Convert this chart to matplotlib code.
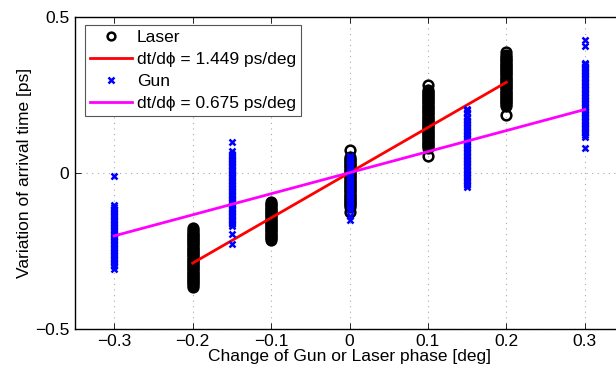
import numpy as np
import matplotlib
matplotlib.use("Agg")
import matplotlib.pyplot as plt

plt.rcParams['font.family'] = ['Liberation Sans', 'DejaVu Sans']
plt.rcParams['axes.unicode_minus'] = True

# ---- data ----
laser_x = [-0.2, -0.1, 0.0, 0.1, 0.2]
laser_y = [
    [-0.178, -0.185, -0.19, -0.195, -0.20, -0.205, -0.21, -0.215, -0.22, -0.225, -0.23, -0.235,
     -0.24, -0.245, -0.25, -0.255, -0.26, -0.265, -0.27, -0.275, -0.28, -0.285, -0.29, -0.295,
     -0.30, -0.305, -0.31, -0.315, -0.32, -0.325, -0.33, -0.335, -0.34, -0.345, -0.35, -0.355,
     -0.36, -0.366],
    [-0.093, -0.10, -0.105, -0.11, -0.115, -0.12, -0.125, -0.13, -0.135, -0.14, -0.145, -0.15,
     -0.155, -0.16, -0.165, -0.17, -0.175, -0.18, -0.185, -0.19, -0.195, -0.20, -0.205, -0.21,
     -0.216],
    [0.072, 0.05, 0.045, 0.04, 0.035, 0.03, 0.025, 0.02, 0.015, 0.01, 0.005, 0.0, -0.005, -0.01,
     -0.015, -0.02, -0.025, -0.03, -0.035, -0.04, -0.045, -0.05, -0.055, -0.06, -0.065, -0.07,
     -0.075, -0.08, -0.085, -0.09, -0.095, -0.10, -0.105, -0.11, -0.126],
    [0.28, 0.265, 0.26, 0.255, 0.25, 0.245, 0.24, 0.235, 0.23, 0.225, 0.22, 0.215, 0.21, 0.205,
     0.20, 0.195, 0.19, 0.185, 0.18, 0.175, 0.17, 0.165, 0.16, 0.155, 0.15, 0.145, 0.14, 0.135,
     0.13, 0.125, 0.12, 0.115, 0.11, 0.105, 0.10, 0.095, 0.09, 0.085, 0.08, 0.055],
    [0.387, 0.378, 0.372, 0.366, 0.36, 0.355, 0.35, 0.345, 0.34, 0.335, 0.33, 0.325, 0.32, 0.315,
     0.31, 0.305, 0.30, 0.295, 0.29, 0.285, 0.28, 0.275, 0.27, 0.265, 0.26, 0.255, 0.25, 0.245,
     0.24, 0.235, 0.23, 0.225, 0.22, 0.214, 0.185],
]
gun_x = [-0.3, -0.15, 0.0, 0.15, 0.3]
gun_y = [
    [-0.012, -0.105, -0.11, -0.115, -0.12, -0.125, -0.13, -0.135, -0.14, -0.145, -0.15, -0.155,
     -0.16, -0.165, -0.17, -0.175, -0.18, -0.185, -0.19, -0.195, -0.20, -0.205, -0.21, -0.215,
     -0.22, -0.225, -0.23, -0.235, -0.24, -0.245, -0.25, -0.255, -0.26, -0.265, -0.27, -0.275,
     -0.28, -0.285, -0.29, -0.295, -0.30, -0.31],
    [0.10, 0.068, 0.06, 0.055, 0.05, 0.045, 0.04, 0.035, 0.03, 0.025, 0.02, 0.015, 0.01, 0.005,
     0.0, -0.005, -0.01, -0.015, -0.02, -0.025, -0.03, -0.035, -0.04, -0.045, -0.05, -0.055, -0.06,
     -0.065, -0.07, -0.075, -0.08, -0.085, -0.09, -0.095, -0.10, -0.105, -0.11, -0.115, -0.12,
     -0.125, -0.13, -0.135, -0.14, -0.145, -0.15, -0.155, -0.16, -0.165, -0.172, -0.195, -0.23],
    [0.055, 0.05, 0.045, 0.04, 0.035, 0.03, 0.025, 0.02, 0.015, 0.01, 0.005, 0.0, -0.005, -0.01,
     -0.015, -0.02, -0.025, -0.03, -0.035, -0.04, -0.045, -0.05, -0.055, -0.06, -0.065, -0.07,
     -0.075, -0.08, -0.085, -0.09, -0.095, -0.10, -0.105, -0.11, -0.115, -0.12, -0.14, -0.15],
    [0.205, 0.20, 0.195, 0.19, 0.18, 0.175, 0.17, 0.165, 0.16, 0.155, 0.15, 0.145, 0.14, 0.135,
     0.13, 0.125, 0.12, 0.115, 0.11, 0.105, 0.10, 0.095, 0.09, 0.085, 0.08, 0.075, 0.07, 0.065,
     0.06, 0.055, 0.05, 0.045, 0.04, 0.035, 0.03, 0.025, 0.02, 0.015, 0.01, 0.005, 0.0, -0.005,
     -0.01, -0.015, -0.02, -0.025, -0.03, -0.035, -0.04, -0.045],
    [0.425, 0.405, 0.352, 0.347, 0.342, 0.337, 0.332, 0.327, 0.322, 0.317, 0.312, 0.307, 0.302,
     0.297, 0.292, 0.287, 0.282, 0.277, 0.272, 0.267, 0.262, 0.257, 0.252, 0.247, 0.242, 0.237,
     0.232, 0.227, 0.222, 0.217, 0.212, 0.207, 0.202, 0.197, 0.192, 0.187, 0.182, 0.177, 0.172,
     0.167, 0.162, 0.157, 0.152, 0.147, 0.142, 0.137, 0.132, 0.127, 0.122, 0.116, 0.078],
]
laser_fit_x = [-0.2, 0.2]
laser_slope = 1.449
gun_fit_x = [-0.3, 0.3]
gun_slope = 0.675

x_ticks = [-0.3, -0.2, -0.1, 0.0, 0.1, 0.2, 0.3]
x_ticklabels = ['\u22120.3', '\u22120.2', '\u22120.1', '0', '0.1', '0.2', '0.3']
y_ticks = [-0.5, 0.0, 0.5]
y_ticklabels = ['\u22120.5', '0', '0.5']

# ---- figure ----
fig = plt.figure(figsize=(6.16, 3.71), dpi=100)
ax = fig.add_axes([75/616, (371-328.7)/371, (624-75)/616, (328.7-16.7)/371])

lx = np.concatenate([[x]*len(ys) for x, ys in zip(laser_x, laser_y)])
ly = np.concatenate(laser_y)
gx = np.concatenate([[x]*len(ys) for x, ys in zip(gun_x, gun_y)])
gy = np.concatenate(gun_y)

ax.plot(lx, ly, linestyle='none', marker='o', markersize=7, markerfacecolor='none',
        markeredgecolor='k', markeredgewidth=1.8, label='Laser', zorder=2)
ax.plot(laser_fit_x, [laser_slope*x for x in laser_fit_x], color='#ff0000', lw=2,
        label='dt/d\u03d5 = %.3f ps/deg' % laser_slope, zorder=3)
ax.plot(gx, gy, linestyle='none', marker='x', markersize=5, markeredgecolor='#0000ff',
        markeredgewidth=1.8, label='Gun', zorder=4)
ax.plot(gun_fit_x, [gun_slope*x for x in gun_fit_x], color='#ff00ff', lw=2,
        label='dt/d\u03d5 = %.3f ps/deg' % gun_slope, zorder=5)

ax.set_xlim(-0.35, 0.35)
ax.set_ylim(-0.5, 0.5)
ax.set_xticks(x_ticks)
ax.set_xticklabels(x_ticklabels)
ax.set_yticks(y_ticks)
ax.set_yticklabels(y_ticklabels)
ax.tick_params(direction='in', top=True, right=True, labelsize=12.5, length=4, width=0.6, pad=4)
ax.grid(True, linestyle=(0, (1, 4)), color='#aaaaaa', lw=0.8)
for s in ax.spines.values():
    s.set_linewidth(1.0)

ax.set_xlabel('Change of Gun or Laser phase [deg]', fontsize=12.5, labelpad=0)
ax.set_ylabel('Variation of arrival time [ps]', fontsize=12.5, labelpad=2)

leg = ax.legend(loc='upper left', bbox_to_anchor=(0.018, 0.975), fontsize=12.5, frameon=True,
                fancybox=False, edgecolor='#555555', framealpha=1, borderpad=0.3,
                handlelength=2.4, handletextpad=0.3, labelspacing=0.4, borderaxespad=0,
                markerscale=0.8)
leg.get_frame().set_linewidth(0.8)

fig.savefig('out.png', dpi=100)
